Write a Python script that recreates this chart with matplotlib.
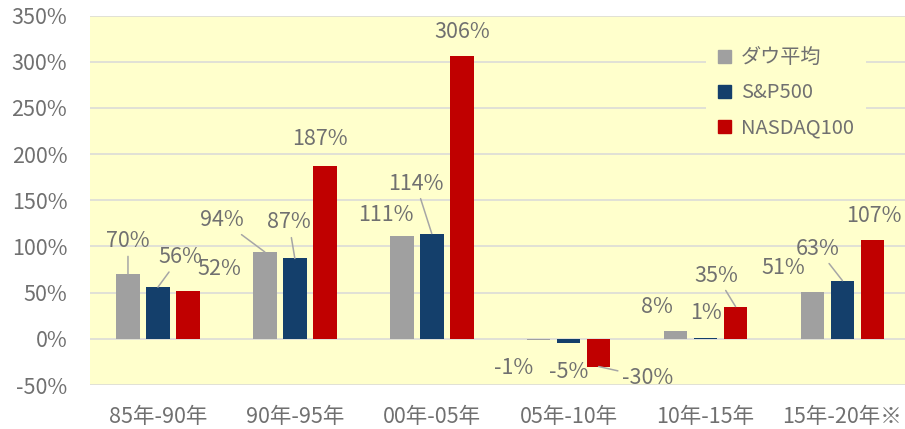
import matplotlib.pyplot as plt
from matplotlib.patches import Patch
import numpy as np

plt.rcParams['font.family'] = ['Noto Sans CJK JP', 'DejaVu Sans']

periods = ["85年-90年", "90年-95年", "00年-05年", "05年-10年", "10年-15年", "15年-20年※"]
series_names = ["ダウ平均", "S&P500", "NASDAQ100"]
dow = [70, 94, 111, -1, 8, 51]
sp500 = [56, 87, 114, -5, 1, 63]
nasdaq = [52, 187, 306, -30, 35, 107]
series = [dow, sp500, nasdaq]
colors = ["#A0A0A0", "#143F6B", "#C00000"]
text_color = "#707070"

# where each data label sits relative to the bar end (pixels), and leader lines
label_offsets = [
    [(0, 33), (-43, 32), (-16, 21), (-25, -28), (-19, 24), (-29, 24)],
    [(22, 30), (-6, 36), (-16, 50), (0, -29), (0, 25), (-25, 32)],
    [(31, 22), (-5, 27), (0, 24), (49, -11), (-19, 31), (1, 24)],
]
leaders = [
    [True, True, False, False, False, False],
    [True, True, True, False, False, True],
    [False, False, False, True, True, False],
]

fig = plt.figure(figsize=(9.05, 4.29), dpi=100)
ax = fig.add_axes([89.5 / 905, 44 / 429, 821.4 / 905, 369.4 / 429])
ax.set_facecolor("#FFFFCC")

x = np.arange(len(periods))
step = 0.219
width = 0.172

for k, vals in enumerate(series):
    bars = ax.bar(x + (k - 1) * step, vals, width, color=colors[k], zorder=3)
    for i, (b, v) in enumerate(zip(bars, vals)):
        dx, dy = label_offsets[k][i]
        arrow = None
        if leaders[k][i]:
            arrow = dict(arrowstyle='-', color='#A6A6A6', lw=1.1, shrinkA=1, shrinkB=0)
        ax.annotate(f"{v}%", xy=(b.get_x() + b.get_width() / 2, v),
                    xytext=(dx, dy), textcoords='offset pixels',
                    ha='center', va='center', fontsize=15.5, color=text_color,
                    arrowprops=arrow, zorder=4)

ax.set_xlim(-0.5, len(periods) - 0.5)
ax.set_ylim(-50, 350)
yt = np.arange(-50, 351, 50)
ax.set_yticks(yt)
ax.set_yticklabels([f"{t}%" for t in yt])
ax.set_xticks(x)
ax.set_xticklabels(periods)
ax.tick_params(axis='y', length=0, pad=16, labelsize=15.5, labelcolor=text_color)
ax.tick_params(axis='x', length=0, pad=15, labelsize=15.5, labelcolor=text_color)
ax.yaxis.grid(True, color='#D9D9D9', lw=1.1)
ax.set_axisbelow(True)
for s in ax.spines.values():
    s.set_visible(False)

handles = [Patch(color=c) for c in colors]
ax.legend(handles, series_names, loc='center',
          bbox_to_anchor=(786 / 905, 1 - 93 / 429), bbox_transform=fig.transFigure,
          frameon=True, facecolor='#FFFFCC', edgecolor='none', framealpha=1,
          fontsize=14.5, labelcolor=text_color, handlelength=0.65, handleheight=0.65,
          handletextpad=0.5, labelspacing=0.7, borderpad=0.6)

fig.savefig("out.png", dpi=100)
